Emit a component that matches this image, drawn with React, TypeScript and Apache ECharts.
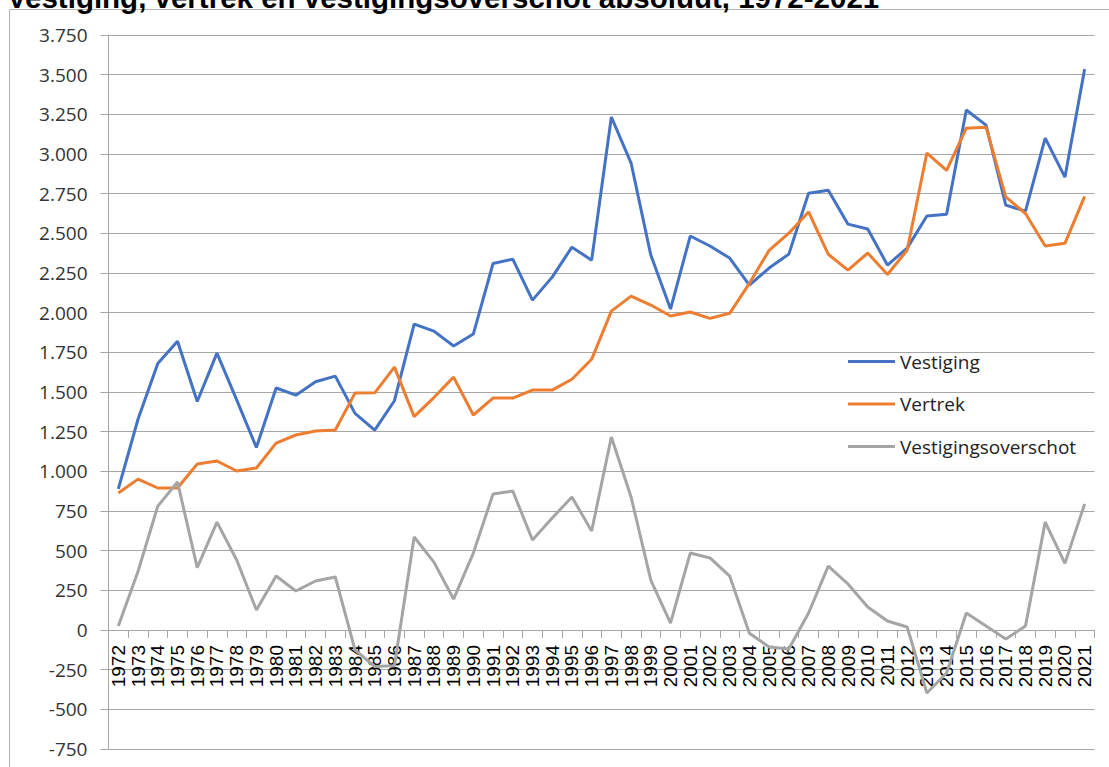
import React, { useEffect, useRef } from "react";
import * as echarts from "echarts";

const titleText = "Vestiging, vertrek en vestigingsoverschot absoluut, 1972-2021";

const years = [
  "1972", "1973", "1974", "1975", "1976", "1977", "1978", "1979", "1980", "1981",
  "1982", "1983", "1984", "1985", "1986", "1987", "1988", "1989", "1990", "1991",
  "1992", "1993", "1994", "1995", "1996", "1997", "1998", "1999", "2000", "2001",
  "2002", "2003", "2004", "2005", "2006", "2007", "2008", "2009", "2010", "2011",
  "2012", "2013", "2014", "2015", "2016", "2017", "2018", "2019", "2020", "2021",
];

const vestiging = [
  890, 1330, 1680, 1820, 1440, 1745, 1450, 1150, 1525, 1480,
  1565, 1600, 1365, 1260, 1445, 1928, 1884, 1790, 1865, 2310,
  2337, 2079, 2224, 2413, 2331, 3233, 2943, 2363, 2023, 2483,
  2420, 2344, 2174, 2281, 2369, 2753, 2772, 2558, 2527, 2300,
  2407, 2609, 2621, 3277, 3182, 2678, 2640, 3100, 2854, 3535,
];

const vertrek = [
  863, 951, 895, 895, 1046, 1065, 1002, 1021, 1178, 1229,
  1254, 1260, 1493, 1495, 1657, 1345, 1465, 1594, 1355, 1462,
  1462, 1512, 1512, 1580, 1706, 2010, 2104, 2048, 1979, 2004,
  1964, 1996, 2185, 2393, 2501, 2635, 2368, 2268, 2376, 2241,
  2393, 3006, 2897, 3163, 3169, 2730, 2625, 2420, 2437, 2733,
];

const overschot = [
  25, 370, 781, 933, 393, 680, 441, 126, 340, 246,
  309, 334, -125, -230, -225, 586, 428, 195, 485, 857,
  876, 567, 706, 838, 624, 1216, 838, 315, 44, 485,
  454, 340, -21, -107, -120, 107, 403, 290, 145, 57,
  19, -397, -271, 107, 25, -57, 25, 680, 420, 794,
];

const seriesNames = ["Vestiging", "Vertrek", "Vestigingsoverschot"];
const seriesColors = ["#4472C4", "#ED7D31", "#A5A5A5"];

const yMin = -750;
const yMax = 3750;
const yStep = 250;

function fmt(v: number): string {
  const neg = v < 0;
  const s = String(Math.abs(v)).replace(/\B(?=(\d{3})+(?!\d))/g, ".");
  return neg ? "-" + s : s;
}

export default function App() {
  const ref = useRef<HTMLDivElement>(null);
  useEffect(() => {
    document.body.style.margin = "0";
    const chart = echarts.init(ref.current as HTMLDivElement, null, { renderer: "svg" });
    const grid = "#a6a6a6";
    const data = [vestiging, vertrek, overschot];
    const gridTop = 35;
    const gridBottom = 18;
    const plotH = 767 - gridTop - gridBottom;
    // move the category axis up to the zero line
    const zeroOffset = -plotH * (0 - yMin) / (yMax - yMin);
    chart.setOption({
      animation: false,
      backgroundColor: "#ffffff",
      graphic: [
        {
          type: "rect",
          silent: true,
          z: -10,
          shape: { x: 9.5, y: 9.5, width: 1300, height: 900 },
          style: { fill: "none", stroke: "#b4b4b4", lineWidth: 1 },
        },
        {
          type: "text",
          silent: true,
          x: 7,
          y: 12,
          style: {
            text: titleText,
            font: 'bold 29.5px "Liberation Sans", Arial, sans-serif',
            fill: "#000000",
            align: "left",
            verticalAlign: "bottom",
          },
        },
      ],
      grid: {
        left: 108.5,
        right: 14.5,
        top: gridTop,
        bottom: gridBottom,
        containLabel: false,
        outerBoundsMode: "none",
      },
      legend: {
        orient: "vertical",
        left: 843,
        top: 347,
        itemWidth: 47,
        itemHeight: 3,
        itemGap: 23.5,
        icon: "rect",
        data: seriesNames,
        textStyle: {
          fontFamily: '"Open Sans", sans-serif',
          fontSize: 19,
          lineHeight: 19,
          color: "#222222",
        },
      },
      xAxis: {
        type: "category",
        data: years,
        boundaryGap: true,
        position: "bottom",
        offset: zeroOffset,
        axisLine: { onZero: false, lineStyle: { color: grid, width: 1 } },
        axisTick: { show: true, length: 8, lineStyle: { color: grid } },
        axisLabel: {
          interval: 0,
          rotate: 90,
          margin: 15,
          fontFamily: '"Liberation Sans", Arial, sans-serif',
          fontSize: 19,
          color: "#000000",
        },
        splitLine: { show: false },
      },
      yAxis: {
        type: "value",
        min: yMin,
        max: yMax,
        interval: yStep,
        axisLine: { show: true, lineStyle: { color: grid, width: 1 } },
        axisTick: { show: true, length: 8, lineStyle: { color: grid } },
        axisLabel: {
          margin: 21,
          fontFamily: '"Open Sans", sans-serif',
          fontSize: 19,
          color: "#333333",
          formatter: (v: number) => fmt(v),
        },
        splitLine: { show: true, lineStyle: { color: grid, width: 1 } },
      },
      series: seriesNames.map((name, i) => ({
        name,
        type: "line",
        data: data[i],
        symbol: "none",
        showSymbol: false,
        color: seriesColors[i],
        lineStyle: { color: seriesColors[i], width: 3 },
        z: 3,
      })),
    });
    return () => chart.dispose();
  }, []);
  return <div ref={ref} style={{ width: 1109, height: 767 }} />;
}
